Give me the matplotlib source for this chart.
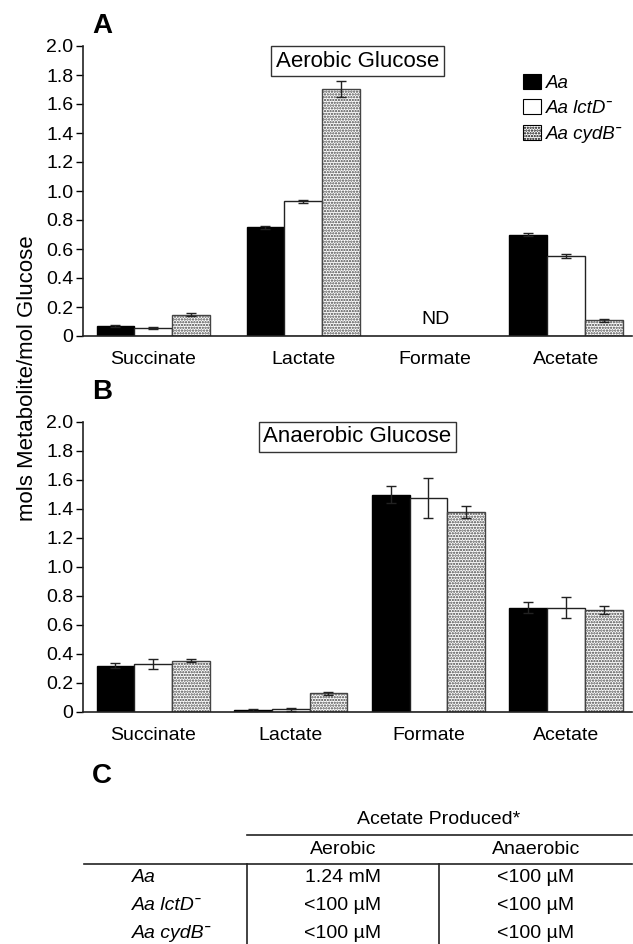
import numpy as np
import matplotlib
matplotlib.use("Agg")
import matplotlib.pyplot as plt
from matplotlib.patches import Patch

plt.rcParams['font.family'] = ['Liberation Sans', 'DejaVu Sans']
plt.rcParams['hatch.color'] = 'black'
plt.rcParams['hatch.linewidth'] = 1.1

# ---- data ----
metabolites = ['Succinate', 'Lactate', 'Formate', 'Acetate']
strains = ['Aa', 'Aa lctD\u02c9', 'Aa cydB\u02c9']

# panel A, aerobic glucose (Formate not detected)
aer_wt = [0.07, 0.75, np.nan, 0.70]
aer_lctd = [0.053, 0.93, np.nan, 0.55]
aer_cydb = [0.147, 1.705, np.nan, 0.107]
aer_wt_err = [0.005, 0.01, np.nan, 0.01]
aer_lctd_err = [0.007, 0.01, np.nan, 0.015]
aer_cydb_err = [0.01, 0.055, np.nan, 0.012]

# panel B, anaerobic glucose
ana_wt = [0.318, 0.012, 1.497, 0.718]
ana_lctd = [0.33, 0.018, 1.474, 0.718]
ana_cydb = [0.353, 0.127, 1.375, 0.702]
ana_wt_err = [0.02, 0.01, 0.06, 0.04]
ana_lctd_err = [0.035, 0.01, 0.14, 0.07]
ana_cydb_err = [0.012, 0.01, 0.042, 0.03]

# panel C table
table_rows = ['Aa', 'Aa lctD\u02c9', 'Aa cydB\u02c9']
aerobic_vals = ['1.24 mM', '<100 µM', '<100 µM']
anaerobic_vals = ['<100 µM', '<100 µM', '<100 µM']

# ---- layout ----
W, H = 633, 944
fig = plt.figure(figsize=(W / 100, H / 100), dpi=100)

pos_a = np.array([0, 1.09, 2.05, 3])
pos_b = np.arange(4)
bw = 0.274
styles = [dict(color='black', edgecolor='black'),
          dict(color='white', edgecolor='#222222'),
          dict(color='white', edgecolor='#444444', hatch='......')]


def draw_panel(ax, pos, vals, errs, title):
    for i, (v, e, st) in enumerate(zip(vals, errs, styles)):
        x = pos + (i - 1) * bw
        ax.bar(x, v, width=bw, linewidth=1.0, zorder=2, **st)
        ax.errorbar(x, v, yerr=e, fmt='none', ecolor='#222222',
                    elinewidth=1.0, capsize=3.8, capthick=1.0, zorder=3)
    ax.set_xlim(-0.51, 3.48)
    ax.set_ylim(0, 2.0)
    ax.set_yticks(np.arange(0, 2.01, 0.2))
    ax.set_yticklabels(['0'] + ['%.1f' % t for t in np.arange(0.2, 2.01, 0.2)])
    ax.set_xticks(pos)
    ax.set_xticklabels(metabolites, fontsize=14)
    ax.tick_params(axis='x', length=0, pad=11)
    ax.tick_params(axis='y', length=5, width=1, labelsize=14, pad=2)
    for s in ['top', 'right']:
        ax.spines[s].set_visible(False)
    for s in ['left', 'bottom']:
        ax.spines[s].set_linewidth(1.2)
        ax.spines[s].set_color('#222222')
    ax.text(0.5, 0.948, title, transform=ax.transAxes, ha='center', va='center',
            fontsize=16, bbox=dict(boxstyle='square,pad=0.2', fc='white',
                                   ec='#333333', lw=1.0))


ax_a = fig.add_axes([83 / W, 1 - 336 / H, 549 / W, 290 / H])
draw_panel(ax_a, pos_a, [aer_wt, aer_lctd, aer_cydb],
           [aer_wt_err, aer_lctd_err, aer_cydb_err], 'Aerobic Glucose')
ax_a.text(pos_a[2], 0.117, 'ND', ha='center', va='center', fontsize=14)
handles = [Patch(facecolor=st['color'], edgecolor='black', hatch=st.get('hatch'),
                 linewidth=0.8) for st in styles]
ax_a.legend(handles, strains, loc='upper left', bbox_to_anchor=(0.801, 0.905),
            frameon=False, prop=dict(size=13.5, style='italic'),
            handlelength=1.0, handleheight=0.85, handletextpad=0.25,
            labelspacing=0.42, borderaxespad=0, borderpad=0)

ax_b = fig.add_axes([83 / W, 1 - 711.7 / H, 549 / W, 290 / H])
draw_panel(ax_b, pos_b, [ana_wt, ana_lctd, ana_cydb],
           [ana_wt_err, ana_lctd_err, ana_cydb_err], 'Anaerobic Glucose')

fig.text(28 / W, 1 - 378 / H, 'mols Metabolite/mol Glucose', rotation=90,
         ha='center', va='center', fontsize=16)
for letter, y in [('A', 26), ('B', 392), ('C', 776)]:
    fig.text(92 / W, 1 - y / H, letter, fontsize=20, fontweight='bold',
             ha='left', va='center')

# ---- table (pixel coordinates) ----
ax_t = fig.add_axes([0, 0, 1, 1], zorder=-1)
ax_t.set_xlim(0, W)
ax_t.set_ylim(H, 0)
ax_t.axis('off')
ax_t.text(439, 819, 'Acetate Produced*', ha='center', va='center', fontsize=14)
ax_t.plot([247, 632], [834.5, 834.5], color='#222222', lw=1.2)
ax_t.text(343, 849, 'Aerobic', ha='center', va='center', fontsize=14)
ax_t.text(536, 849, 'Anaerobic', ha='center', va='center', fontsize=14)
ax_t.plot([84, 632], [863.5, 863.5], color='#222222', lw=1.2)
ax_t.plot([247, 247], [863.5, H], color='#222222', lw=1.2)
ax_t.plot([439, 439], [863.5, H], color='#222222', lw=1.2)
row_y = [878, 906, 934]
for lab, a, b, y in zip(table_rows, aerobic_vals, anaerobic_vals, row_y):
    ax_t.text(132, y, lab, ha='left', va='center', fontsize=14, style='italic')
    ax_t.text(343, y, a, ha='center', va='center', fontsize=14)
    ax_t.text(536, y, b, ha='center', va='center', fontsize=14)

fig.savefig('out.png', dpi=100)
